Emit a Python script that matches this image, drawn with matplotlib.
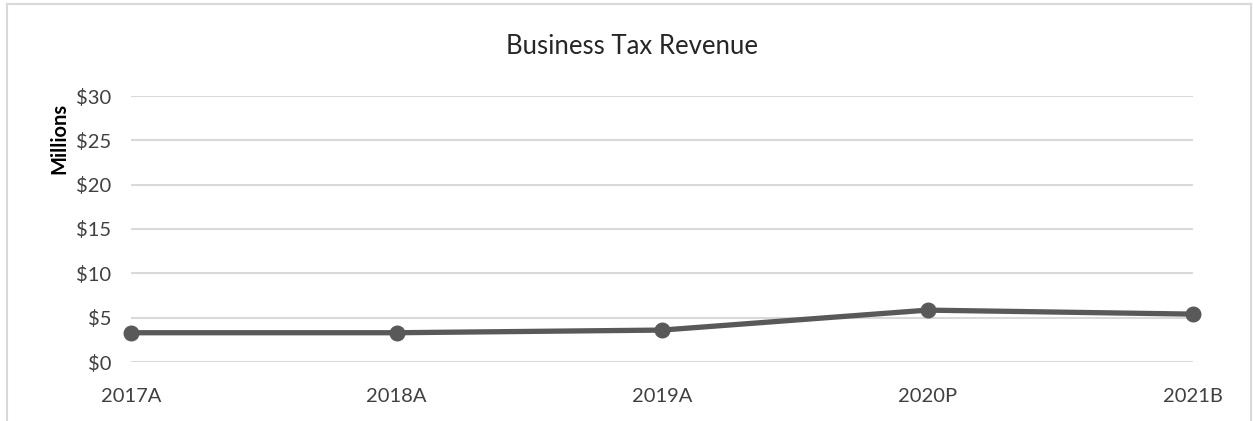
import matplotlib
matplotlib.use("Agg")
import matplotlib.pyplot as plt
from matplotlib.lines import Line2D

categories = ["2017A", "2018A", "2019A", "2020P", "2021B"]
revenue = [3.3, 3.3, 3.6, 5.85, 5.4]
yticks = [0, 5, 10, 15, 20, 25, 30]
ytick_labels = ["$0", "$5", "$10", "$15", "$20", "$25", "$30"]

plt.rcParams['font.family'] = ['Lato', 'DejaVu Sans']
W, H = 1253, 421
fig = plt.figure(figsize=(W/100, H/100), dpi=100)
ax = fig.add_axes([131/W, 1-362/H, (1193-131)/W, (362-96)/H])

x = list(range(len(categories)))
ax.plot(x, revenue, color="#595959", linewidth=3.8, marker="o", markersize=10.5,
        solid_capstyle="round", clip_on=False, zorder=3)

ax.set_xlim(0, len(categories)-1)
ax.set_ylim(0, 30)
ax.set_yticks(yticks)
ax.set_yticklabels(ytick_labels)
ax.set_xticks(x)
ax.set_xticklabels(categories)
ax.grid(axis="y", color="#d9d9d9", linewidth=1.5)
ax.set_axisbelow(True)
for s in ax.spines.values():
    s.set_visible(False)
ax.tick_params(axis="both", length=0, labelsize=14.5, colors="#404040")
ax.tick_params(axis="y", pad=14)
ax.tick_params(axis="x", pad=19)
ax.set_ylabel("Millions", fontsize=14.5, fontweight="bold", color="#000000")
ax.yaxis.set_label_coords(-62/(1193-131), 0.84)

fig.text(632/W, 1-47/H, "Business Tax Revenue", ha="center", va="center",
         fontsize=18.5, color="#262626")

# chart border
bc = "#d9d9d9"
fig.add_artist(Line2D([7/W, 7/W], [0, 1-4/H], color=bc, linewidth=1.5))
fig.add_artist(Line2D([7/W, 1251/W], [1-4/H, 1-4/H], color=bc, linewidth=1.5))
fig.add_artist(Line2D([1251/W, 1251/W], [0, 1-4/H], color=bc, linewidth=1.5))

fig.savefig("out.png", dpi=100)
